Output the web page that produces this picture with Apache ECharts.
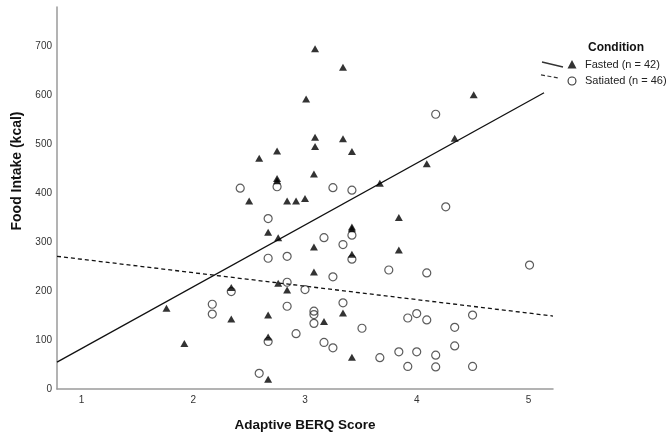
<!DOCTYPE html>
<html>
<head>
<meta charset="utf-8">
<script src="https://cdn.jsdelivr.net/npm/echarts@6/dist/echarts.min.js"></script>
<style>
  html, body { margin: 0; padding: 0; background: #fff; }
  #chart { width: 670px; height: 433px; }
</style>
</head>
<body>
<div id="chart"></div>
<script>
const FONT = "'Liberation Sans', Arial, sans-serif";

// Adaptive BERQ score (x) and food intake in kcal (y)
const fastedX = [1.76, 1.92, 2.34, 2.34, 2.67, 2.67, 2.67, 2.76, 2.84, 2.75, 2.59, 2.75, 2.75, 2.50, 2.84, 2.92, 3.00, 2.67, 2.76, 3.09, 3.34, 3.01, 3.09, 3.34, 3.09, 3.42, 3.08, 3.67, 3.84, 3.42, 3.42, 3.08, 3.84, 3.42, 3.08, 3.34, 3.17, 3.42, 4.51, 4.34, 4.09];
const fastedY = [165, 93, 207, 143, 151, 106, 20, 216, 202, 486, 471, 430, 425, 384, 384, 384, 389, 320, 309, 695, 657, 592, 514, 511, 495, 485, 439, 420, 350, 331, 327, 290, 284, 275, 239, 155, 138, 65, 601, 512, 460];

const satiatedX = [2.42, 2.75, 2.67, 2.67, 2.84, 3.25, 3.42, 3.17, 3.34, 3.75, 3.25, 3.42, 3.42, 3.00, 3.34, 3.08, 3.08, 3.08, 2.92, 3.17, 3.25, 3.51, 3.67, 3.84, 3.92, 3.92, 4.00, 4.00, 4.17, 4.26, 4.09, 5.01, 4.09, 4.50, 4.34, 4.34, 4.17, 4.17, 4.50, 2.17, 2.17, 2.34, 2.67, 2.59, 2.84, 2.84];
const satiatedY = [410, 413, 348, 267, 271, 411, 406, 309, 295, 243, 229, 314, 265, 203, 176, 159, 152, 134, 113, 95, 84, 124, 64, 76, 46, 145, 154, 76, 561, 372, 237, 253, 141, 151, 126, 88, 69, 45, 46, 173, 153, 199, 97, 32, 218, 169];

// fit line end points
const fastedFitX = [0.78, 5.14];
const fastedFitY = [55, 605];
const satiatedFitX = [0.78, 5.22];
const satiatedFitY = [271, 149];

const legendNames = ["Fasted (n = 42)", "Satiated (n = 46)"];
const yTicks = [0, 100, 200, 300, 400, 500, 600, 700];
const xTicks = [1, 2, 3, 4, 5];

const zip = (xs, ys) => xs.map((x, i) => [x, ys[i]]);

// --- legend icons: slanted line piece + marker, drawn as one filled path ---
function seg(x1, y1, x2, y2, w) {
  const dx = x2 - x1, dy = y2 - y1;
  const len = Math.hypot(dx, dy);
  const nx = (-dy / len) * w / 2, ny = (dx / len) * w / 2;
  return `M${x1 + nx} ${y1 + ny}L${x2 + nx} ${y2 + ny}L${x2 - nx} ${y2 - ny}L${x1 - nx} ${y1 - ny}Z`;
}
function ring(cx, cy, r, w) {
  const ri = r - w;
  return `M${cx - r} ${cy}A${r} ${r} 0 1 0 ${cx + r} ${cy}A${r} ${r} 0 1 0 ${cx - r} ${cy}Z` +
         `M${cx - ri} ${cy}A${ri} ${ri} 0 1 1 ${cx + ri} ${cy}A${ri} ${ri} 0 1 1 ${cx - ri} ${cy}Z`;
}
// anchors pin the bounding box to 38 x 14 so the icon is not rescaled
const anchors = "M0 0L0.01 0Z M38 14L37.99 14Z";

const fastedIcon = "path://" + anchors +
  seg(2, 4, 23, 9, 1.3) + "M27.5 10.5L36.5 10.5L32 2Z";

function dashedIcon() {
  let p = "path://" + anchors;
  const x1 = 1, y1 = 0.9, x2 = 18, y2 = 3.9;
  const len = Math.hypot(x2 - x1, y2 - y1);
  const ux = (x2 - x1) / len, uy = (y2 - y1) / len;
  for (let t = 0; t < len; t += 6.5) {
    const e = Math.min(t + 4, len);
    p += seg(x1 + ux * t, y1 + uy * t, x1 + ux * e, y1 + uy * e, 1.2);
  }
  return p + ring(32, 7, 4.5, 1.1);
}

const chart = echarts.init(document.getElementById("chart"), null, { renderer: "canvas" });

chart.setOption({
  animation: false,
  backgroundColor: "#fff",
  textStyle: { fontFamily: FONT },
  title: {
    text: "Condition",
    left: 583,
    top: 37,
    textStyle: { fontFamily: FONT, fontSize: 12, fontWeight: "bold", color: "#111" },
  },
  legend: {
    orient: "vertical",
    left: 540,
    top: 58,
    padding: 0,
    itemGap: 2,
    itemWidth: 38,
    itemHeight: 14,
    selectedMode: false,
    textStyle: { fontFamily: FONT, fontSize: 11, color: "#222", padding: [0, 0, 0, 2] },
    data: [
      { name: legendNames[0], icon: fastedIcon, itemStyle: { color: "#000", borderWidth: 0 } },
      { name: legendNames[1], icon: dashedIcon(), itemStyle: { color: "#000", borderWidth: 0 } },
    ],
  },
  grid: { left: 57, right: 117, top: 7, bottom: 44, outerBoundsMode: "none" },
  xAxis: {
    type: "value",
    min: 0.78,
    max: 5.22,
    interval: 0.02,
    name: "Adaptive BERQ Score",
    nameLocation: "middle",
    nameGap: 29,
    nameTextStyle: { fontFamily: FONT, fontSize: 13.5, fontWeight: "bold", color: "#111" },
    axisLine: { lineStyle: { color: "#9a9a9a", width: 1.5 } },
    axisTick: { show: false },
    splitLine: { show: false },
    axisLabel: {
      margin: 6,
      fontSize: 10,
      color: "#333",
      formatter: (v) => {
        const r = Math.round(v);
        return Math.abs(v - r) < 1e-6 && xTicks.includes(r) ? String(r) : "";
      },
    },
  },
  yAxis: {
    type: "value",
    min: 0,
    max: 780,
    interval: 100,
    name: "Food Intake (kcal)",
    nameLocation: "middle",
    nameGap: 33,
    nameTextStyle: { fontFamily: FONT, fontSize: 14, fontWeight: "bold", color: "#111", padding: [0, 0, 0, 54] },
    axisLine: { show: true, lineStyle: { color: "#9a9a9a", width: 1.5 } },
    axisTick: { show: false },
    splitLine: { show: false },
    axisLabel: {
      margin: 5,
      fontSize: 10,
      color: "#333",
      formatter: (v) => (yTicks.includes(v) ? String(v) : ""),
    },
  },
  series: [
    {
      name: "Satiated fit",
      type: "line",
      data: zip(satiatedFitX, satiatedFitY),
      symbol: "none",
      silent: true,
      lineStyle: { color: "#111", width: 1.3, type: [4, 3] },
      z: 1,
    },
    {
      name: "Fasted fit",
      type: "line",
      data: zip(fastedFitX, fastedFitY),
      symbol: "none",
      silent: true,
      lineStyle: { color: "#111", width: 1.3 },
      z: 1,
    },
    {
      name: legendNames[1],
      type: "scatter",
      data: zip(satiatedX, satiatedY),
      symbol: "circle",
      symbolSize: 8,
      itemStyle: { color: "rgba(255,255,255,0)", borderColor: "#333", borderWidth: 1.2 },
      z: 2,
    },
    {
      name: legendNames[0],
      type: "scatter",
      data: zip(fastedX, fastedY),
      symbol: "triangle",
      symbolSize: [8, 7],
      itemStyle: { color: "#000" },
      z: 3,
    },
  ],
});
</script>
</body>
</html>
